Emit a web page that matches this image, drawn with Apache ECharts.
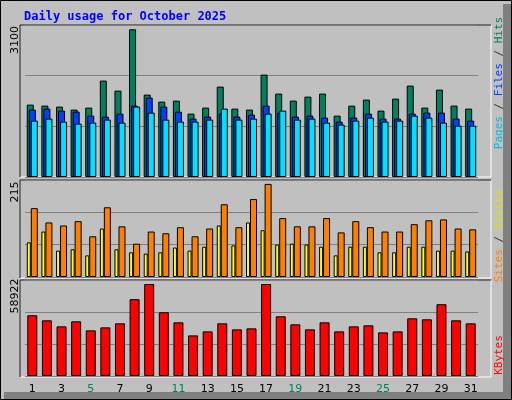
<!DOCTYPE html>
<html><head><meta charset="utf-8">
<script src="https://cdn.jsdelivr.net/npm/echarts@6/dist/echarts.min.js"></script>
<style>html,body{margin:0;padding:0;background:#c0c0c0}#c{width:512px;height:400px}</style>
</head><body><div id="c"></div>
<script>
const days = ['1','2','3','4','5','6','7','8','9','10','11','12','13','14','15','16','17','18','19','20','21','22','23','24','25','26','27','28','29','30','31'];
const weekend = ['4','5','11','12','18','19','25','26'];
const hits = [1519,1498,1477,1414,1456,2023,1813,3100,1729,1582,1603,1330,1456,1897,1435,1414,2149,1750,1603,1687,1750,1288,1498,1624,1393,1645,1918,1456,1834,1498,1435];
const files = [1414,1435,1393,1372,1288,1267,1330,1498,1666,1477,1372,1225,1267,1330,1267,1309,1498,1351,1267,1288,1246,1162,1246,1330,1225,1225,1330,1351,1351,1225,1183];
const pages = [1183,1225,1162,1120,1141,1204,1141,1477,1351,1204,1162,1162,1204,1435,1204,1225,1330,1393,1204,1225,1141,1099,1183,1246,1162,1183,1288,1246,1141,1078,1078];
const sites = [80,105,61,64,50,112,64,57,54,57,68,61,70,119,73,126,108,75,77,75,70,50,70,70,57,57,70,70,61,61,59];
const visits = [159,126,119,129,94,161,117,77,105,101,115,94,112,168,115,180,215,136,117,117,136,103,129,115,105,105,122,131,133,112,110];
const kbytes = [38900,35670,31800,35030,29230,31160,33740,49210,58922,40830,34380,26000,28580,33740,29870,30520,58922,38250,33100,29870,34380,28580,31800,32450,27940,28580,36960,36320,45990,35670,33740];
const maxLabels = ['3100','215','58922'];

const chart = echarts.init(document.getElementById('c'), null, {renderer:'canvas'});
const grids = [{top:25,height:152},{top:180,height:97},{top:280,height:96}];
const maxes = [3190,224,61500];
const bs = {borderColor:'#000',borderWidth:1};
const mono = '"DejaVu Sans Mono", monospace';
function panel(y,h){
  return [
    {type:'rect',shape:{x:20,y:y,width:471,height:h},style:{fill:'#c0c0c0',stroke:'#ffffff',lineWidth:1},z:-10},
    {type:'line',shape:{x1:20,y1:y,x2:20,y2:y+h},style:{stroke:'#000',lineWidth:1},z:-9},
    {type:'line',shape:{x1:20,y1:y,x2:491,y2:y},style:{stroke:'#000',lineWidth:1},z:-9}
  ];
}
function rot(x,y,rich,text){
  return {type:'text',x:x,y:y,rotation:Math.PI/2,style:{text:text,rich:rich,font:'11px '+mono,align:'center',verticalAlign:'middle'}};
}
chart.setOption({
  animation:false,
  backgroundColor:'#c0c0c0',
  title:{text:'Daily usage for October 2025',left:19,top:6,textStyle:{color:'#0000ff',fontFamily:mono,fontWeight:'bold',fontSize:12}},
  graphic:[
    {type:'rect',shape:{x:0.5,y:0.5,width:511,height:399},style:{fill:null,stroke:'#000',lineWidth:1},z:-20},
    {type:'rect',shape:{x:503,y:4,width:8,height:395},style:{fill:'#808080'},z:-19},
    {type:'rect',shape:{x:4,y:392,width:507,height:7},style:{fill:'#808080'},z:-19},
    ...panel(25,152),...panel(180,98),...panel(280,97),
    {type:'text',x:15,y:40,rotation:Math.PI/2,style:{text:maxLabels[0],font:'11px "DejaVu Sans"',fill:'#000',align:'center',verticalAlign:'middle'}},
    {type:'text',x:15,y:192,rotation:Math.PI/2,style:{text:maxLabels[1],font:'11px "DejaVu Sans"',fill:'#000',align:'center',verticalAlign:'middle'}},
    {type:'text',x:15,y:296,rotation:Math.PI/2,style:{text:maxLabels[2],font:'11px "DejaVu Sans"',fill:'#000',align:'center',verticalAlign:'middle'}},
    rot(499,83,{p:{fill:'#00c0e0'},f:{fill:'#0040ff'},h:{fill:'#008060'},s:{fill:'#333'}},'{p|Pages}{s| / }{f|Files}{s| / }{h|Hits}'),
    rot(499,236,{a:{fill:'#ff8000'},b:{fill:'#e0e000'},s:{fill:'#333'}},'{a|Sites}{s| / }{b|Visits}'),
    rot(499,355,{k:{fill:'#ff0000'}},'{k|KBytes}')
  ],
  grid:grids.map(g=>({left:25,width:453,top:g.top,height:g.height})),
  xAxis:[0,1,2].map(i=>({type:'category',gridIndex:i,data:days,axisLine:{show:false},axisTick:{show:false},
    axisLabel:{show:i===2,margin:8,fontSize:11,fontFamily:'DejaVu Sans',color:(v)=>weekend.includes(v)?'#008060':'#000'}})),
  yAxis:[0,1,2].map(i=>({type:'value',gridIndex:i,min:0,max:maxes[i],interval:maxes[i]/3,axisLabel:{show:false},axisLine:{show:false},axisTick:{show:false},
    splitLine:{show:true,lineStyle:{color:'#808080',width:1}}})),
  series:[
    {type:'bar',name:'Hits',data:hits,xAxisIndex:0,yAxisIndex:0,barWidth:7,barGap:'-71%',itemStyle:{color:'#008060',...bs}},
    {type:'bar',name:'Files',data:files,xAxisIndex:0,yAxisIndex:0,barWidth:7,barGap:'-71%',itemStyle:{color:'#0040ff',...bs}},
    {type:'bar',name:'Pages',data:pages,xAxisIndex:0,yAxisIndex:0,barWidth:7,barGap:'-71%',itemStyle:{color:'#00e0ff',...bs}},
    {type:'bar',name:'Sites',data:sites,xAxisIndex:1,yAxisIndex:1,barWidth:4,barGap:'0%',itemStyle:{color:'#ffff00',...bs}},
    {type:'bar',name:'Visits',data:visits,xAxisIndex:1,yAxisIndex:1,barWidth:7,barGap:'0%',itemStyle:{color:'#ff8000',...bs}},
    {type:'bar',name:'KBytes',data:kbytes,xAxisIndex:2,yAxisIndex:2,barWidth:10,itemStyle:{color:'#ff0000',...bs}}
  ]
});
</script></body></html>
